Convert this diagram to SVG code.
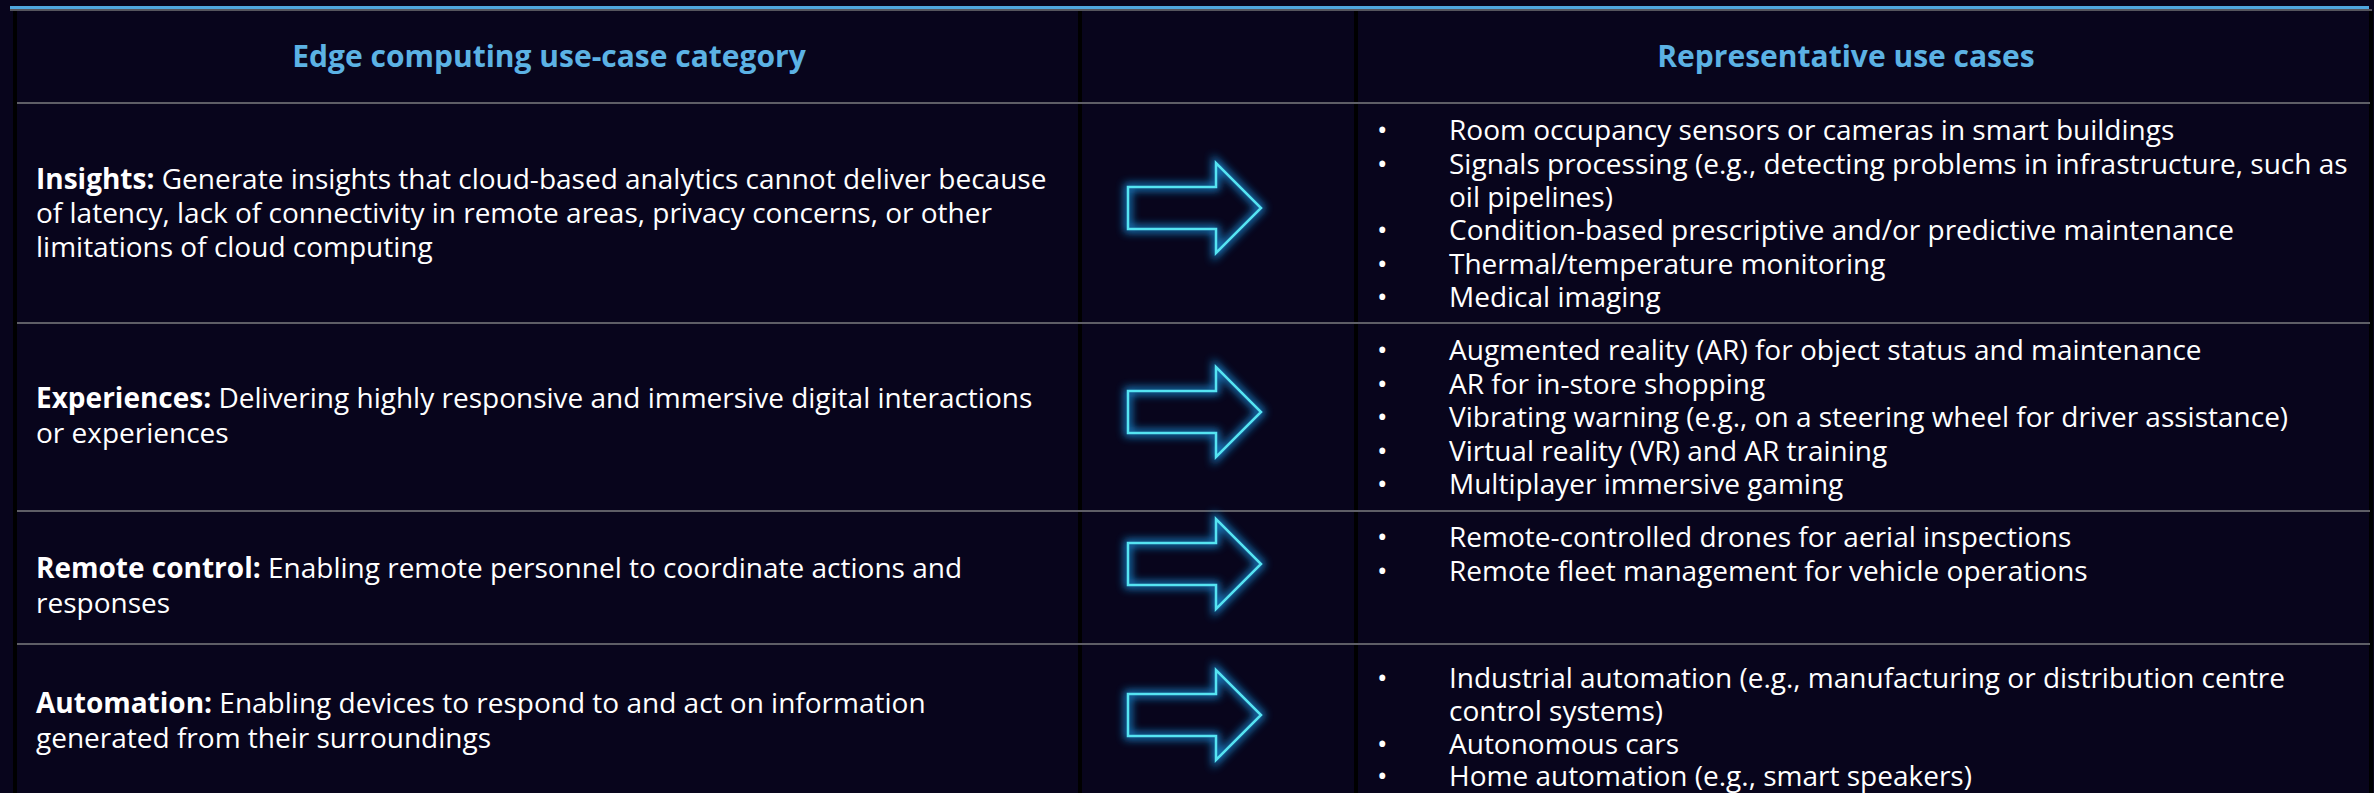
<svg xmlns="http://www.w3.org/2000/svg" width="2374" height="793" viewBox="0 0 2374 793">
<defs>
<style>
.bg{fill:#08051c}
.hdr{font-family:"Open Sans","Liberation Sans",sans-serif;font-weight:700;font-size:30px;fill:#5cb2e4;text-anchor:middle}
.t{font-family:"Open Sans","Liberation Sans",sans-serif;font-size:28px;fill:#ffffff}
.b{font-weight:700}
.sep{stroke:#5e5e66;stroke-width:2}
.vl{stroke:#000000;stroke-width:4}
.arrow{fill:none;stroke:#55e4f2;stroke-width:2.5;stroke-linejoin:miter}
.glow{fill:none;stroke:#1c98e6;stroke-width:7;filter:url(#blur);opacity:0.85}
</style>
<filter id="blur" x="-20%" y="-30%" width="140%" height="160%">
<feGaussianBlur stdDeviation="4"/>
</filter>
<g id="arrowShape">
<path class="glow" d="M1128,187 L1216,187 L1216,163 L1261,208 L1216,253 L1216,229 L1128,229 Z"/>
<path class="arrow" d="M1128,187 L1216,187 L1216,163 L1261,208 L1216,253 L1216,229 L1128,229 Z"/>
</g>
</defs>
<rect class="bg" x="0" y="0" width="2374" height="793"/>
<g id="grid">
<line x1="10" y1="7.5" x2="2369" y2="7.5" stroke="#4ea6de" stroke-width="3"/>
<line x1="10" y1="10" x2="2372" y2="10" stroke="#55555d" stroke-width="2"/>
<line class="vl" x1="15" y1="11" x2="15" y2="793"/>
<line class="vl" x1="1080" y1="11" x2="1080" y2="793"/>
<line class="vl" x1="1356" y1="11" x2="1356" y2="793"/>
<line class="vl" x1="2371" y1="11" x2="2371" y2="793"/>
<line class="sep" x1="17" y1="103" x2="2370" y2="103"/>
<line class="sep" x1="17" y1="323" x2="2370" y2="323"/>
<line class="sep" x1="17" y1="511" x2="2370" y2="511"/>
<line class="sep" x1="17" y1="644" x2="2370" y2="644"/>
</g>
<g id="header">
<text class="hdr" x="549" y="67">Edge computing use-case category</text>
<text class="hdr" x="1846" y="67">Representative use cases</text>
</g>
<g id="connectors">
<use href="#arrowShape"/>
<use href="#arrowShape" transform="translate(0,204)"/>
<use href="#arrowShape" transform="translate(0,356)"/>
<use href="#arrowShape" transform="translate(0,507)"/>
</g>
<g id="insights">
<text class="t" x="36" y="189"><tspan class="b">Insights:</tspan> Generate insights that cloud-based analytics cannot deliver because</text>
<text class="t" x="36" y="223">of latency, lack of connectivity in remote areas, privacy concerns, or other</text>
<text class="t" x="36" y="257">limitations of cloud computing</text>
</g>
<g id="insights-cases">
<text class="t" x="1377" y="140">•</text><text class="t" x="1449" y="140">Room occupancy sensors or cameras in smart buildings</text>
<text class="t" x="1377" y="174">•</text><text class="t" x="1449" y="174">Signals processing (e.g., detecting problems in infrastructure, such as</text>
<text class="t" x="1449" y="207">oil pipelines)</text>
<text class="t" x="1377" y="240">•</text><text class="t" x="1449" y="240">Condition-based prescriptive and/or predictive maintenance</text>
<text class="t" x="1377" y="274">•</text><text class="t" x="1449" y="274">Thermal/temperature monitoring</text>
<text class="t" x="1377" y="307">•</text><text class="t" x="1449" y="307">Medical imaging</text>
</g>
<g id="experiences">
<text class="t" x="36" y="408"><tspan class="b">Experiences:</tspan> Delivering highly responsive and immersive digital interactions</text>
<text class="t" x="36" y="443">or experiences</text>
</g>
<g id="experiences-cases">
<text class="t" x="1377" y="360">•</text><text class="t" x="1449" y="360">Augmented reality (AR) for object status and maintenance</text>
<text class="t" x="1377" y="394">•</text><text class="t" x="1449" y="394">AR for in-store shopping</text>
<text class="t" x="1377" y="427">•</text><text class="t" x="1449" y="427">Vibrating warning (e.g., on a steering wheel for driver assistance)</text>
<text class="t" x="1377" y="461">•</text><text class="t" x="1449" y="461">Virtual reality (VR) and AR training</text>
<text class="t" x="1377" y="494">•</text><text class="t" x="1449" y="494">Multiplayer immersive gaming</text>
</g>
<g id="remote-control">
<text class="t" x="36" y="578"><tspan class="b">Remote control:</tspan> Enabling remote personnel to coordinate actions and</text>
<text class="t" x="36" y="613">responses</text>
</g>
<g id="remote-control-cases">
<text class="t" x="1377" y="547">•</text><text class="t" x="1449" y="547">Remote-controlled drones for aerial inspections</text>
<text class="t" x="1377" y="581">•</text><text class="t" x="1449" y="581">Remote fleet management for vehicle operations</text>
</g>
<g id="automation">
<text class="t" x="36" y="713"><tspan class="b">Automation:</tspan> Enabling devices to respond to and act on information</text>
<text class="t" x="36" y="748">generated from their surroundings</text>
</g>
<g id="automation-cases">
<text class="t" x="1377" y="688">•</text><text class="t" x="1449" y="688">Industrial automation (e.g., manufacturing or distribution centre</text>
<text class="t" x="1449" y="721">control systems)</text>
<text class="t" x="1377" y="754">•</text><text class="t" x="1449" y="754">Autonomous cars</text>
<text class="t" x="1377" y="786">•</text><text class="t" x="1449" y="786">Home automation (e.g., smart speakers)</text>
</g>
</svg>
